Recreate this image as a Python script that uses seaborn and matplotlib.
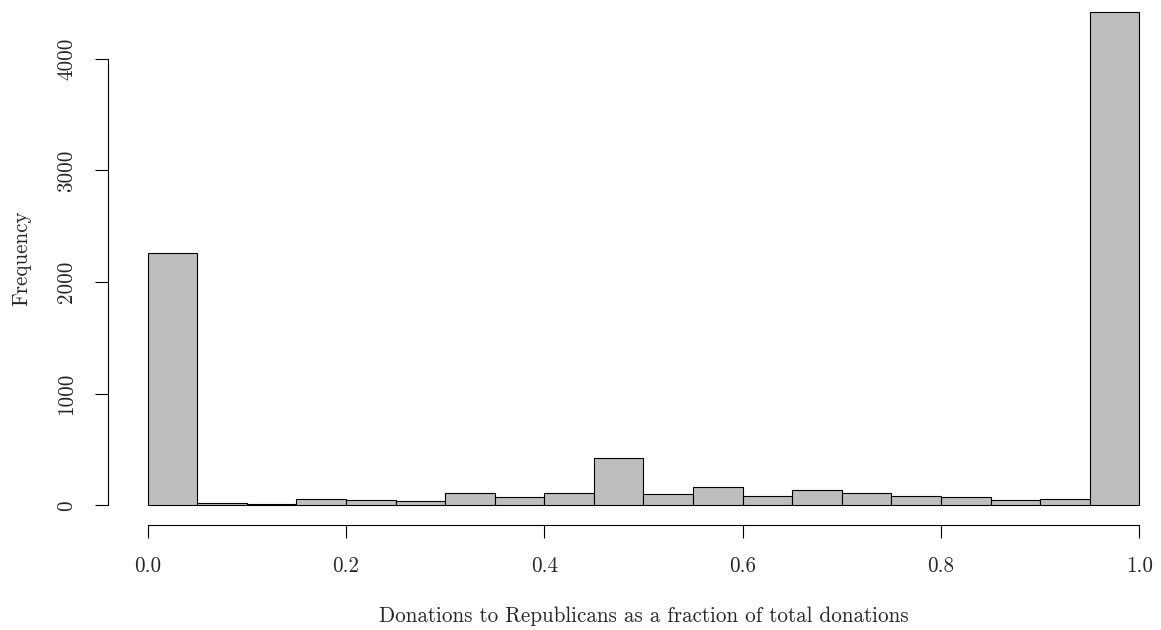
import numpy as np
import pandas as pd
import seaborn as sns
import matplotlib.pyplot as plt

# histogram bins (fraction of donations going to Republicans)
bin_edges = [0.0, 0.05, 0.1, 0.15, 0.2, 0.25, 0.3, 0.35, 0.4, 0.45, 0.5,
             0.55, 0.6, 0.65, 0.7, 0.75, 0.8, 0.85, 0.9, 0.95, 1.0]
counts = [2260, 21, 15, 57, 48, 42, 107, 78, 110, 420,
          104, 164, 87, 137, 110, 84, 75, 48, 57, 4421]

x_ticks = [0.0, 0.2, 0.4, 0.6, 0.8, 1.0]
x_ticklabels = ['0.0', '0.2', '0.4', '0.6', '0.8', '1.0']
y_ticks = [0, 1000, 2000, 3000, 4000]
y_ticklabels = ['0', '1000', '2000', '3000', '4000']

mids = [(a + b) / 2 for a, b in zip(bin_edges[:-1], bin_edges[1:])]
df = pd.DataFrame({'fraction': mids, 'count': counts})

sns.set_style('ticks')
plt.rcParams['font.family'] = ['cmr10', 'DejaVu Serif']
plt.rcParams['mathtext.fontset'] = 'cm'
fontsize = 15.2

W, H = 1161, 630
fig = plt.figure(figsize=(W / 100, H / 100), dpi=100)
# plot region in pixels (R style, 4% padding beyond data range)
left_px, right_px = 108, 1179
top_px, bottom_px = -8, 525
ax = fig.add_axes([left_px / W, (H - bottom_px) / H,
                   (right_px - left_px) / W, (bottom_px - top_px) / H])

sns.histplot(data=df, x='fraction', weights='count', bins=bin_edges,
             color='#BEBEBE', edgecolor='black', linewidth=0.8, alpha=1,
             ax=ax)

ymax = max(counts)
ax.set_xlim(-0.04, 1.04)
ax.set_ylim(-0.04 * ymax, 1.04 * ymax)

sns.despine(ax=ax)
ax.spines['left'].set_bounds(0, 4000)
ax.spines['bottom'].set_bounds(0, 1)
for s in ['left', 'bottom']:
    ax.spines[s].set_linewidth(0.8)
    ax.spines[s].set_color('black')

ax.set_xticks(x_ticks)
ax.set_xticklabels(x_ticklabels, fontsize=fontsize)
ax.set_yticks(y_ticks)
ax.set_yticklabels(y_ticklabels, fontsize=fontsize, rotation=90, va='center')
ax.tick_params(length=9.4, width=0.8, pad=13.5, color='black')

ax.set_xlabel('Donations to Republicans as a fraction of total donations',
              fontsize=fontsize)
ax.set_ylabel('Frequency', fontsize=fontsize)
ax.xaxis.set_label_coords(0.5, -91 / (bottom_px - top_px))
ax.xaxis.label.set_va('center')
ax.yaxis.set_label_coords(-86 / (right_px - left_px), 0.5)
ax.yaxis.label.set_va('center')

fig.savefig('out.png', dpi=100)
